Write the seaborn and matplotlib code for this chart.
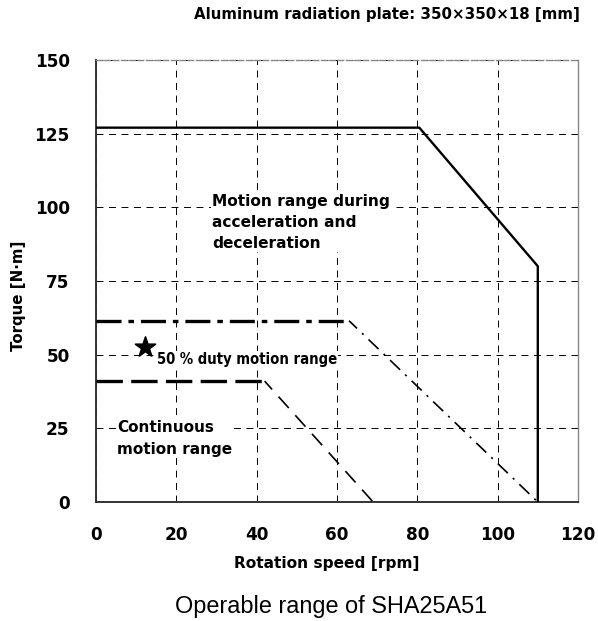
"""Operable range chart of SHA25A51 redrawn with seaborn."""
import matplotlib
matplotlib.use("Agg")
import matplotlib.pyplot as plt
from matplotlib import font_manager
import pandas as pd
import seaborn as sns

# Motion range during acceleration and deceleration (solid)
accel_speed = [0, 80.5, 110, 110]
accel_torque = [127, 127, 80, 0]
# 50 % duty motion range (dash-dot)
duty_speed = [0, 63, 110]
duty_torque = [61.5, 61.5, 0]
# Continuous motion range (dashed)
cont_speed = [0, 42, 69]
cont_torque = [41, 41, 0]
# star marker for the 50 % duty label
star_speed = [12.2]
star_torque = [52.5]

x_ticks = [0, 20, 40, 60, 80, 100, 120]
y_ticks = [0, 25, 50, 75, 100, 125, 150]

sns.set_style("white")
plt.rcParams["font.family"] = ["DejaVu Sans"]
plt.rcParams["lines.scale_dashes"] = False
plt.rcParams["text.color"] = "black"
plt.rcParams["axes.labelcolor"] = "black"
plt.rcParams["xtick.color"] = "black"
plt.rcParams["ytick.color"] = "black"

# condensed face for the 50 % duty label, if one is installed
fonts = font_manager.fontManager.ttflist
if any(f.name == "DejaVu Sans" and f.stretch == "condensed" for f in fonts):
    duty_font = dict(family="DejaVu Sans", fontstretch="condensed", fontsize=10.6)
elif any(f.name == "Liberation Sans Narrow" for f in fonts):
    duty_font = dict(family="Liberation Sans Narrow", fontsize=13)
else:
    duty_font = dict(family="Liberation Sans", fontsize=11.4)

fig = plt.figure(figsize=(5.98, 6.21), dpi=100)
ax = fig.add_axes([0.1605, 0.1916, 0.806, 0.712])

accel = pd.DataFrame({"speed": accel_speed, "torque": accel_torque})
duty = pd.DataFrame({"speed": duty_speed, "torque": duty_torque})
cont = pd.DataFrame({"speed": cont_speed, "torque": cont_torque})

sns.lineplot(data=accel, x="speed", y="torque", sort=False, estimator=None,
             color="black", linewidth=1.7, ax=ax, zorder=5)

# flat parts are heavy, sloped parts are light
l1 = sns.lineplot(data=duty.iloc[:2], x="speed", y="torque", sort=False,
                  estimator=None, color="black", linewidth=2.4, ax=ax,
                  zorder=5).lines[-1]
l1.set_linestyle((0, (18, 5, 4, 5)))
l2 = sns.lineplot(data=duty.iloc[1:], x="speed", y="torque", sort=False,
                  estimator=None, color="black", linewidth=1.2, ax=ax,
                  zorder=5).lines[-1]
l2.set_linestyle((2, (10, 5, 1.5, 5)))

l3 = sns.lineplot(data=cont.iloc[:2], x="speed", y="torque", sort=False,
                  estimator=None, color="black", linewidth=2.4, ax=ax,
                  zorder=5).lines[-1]
l3.set_linestyle((0, (19, 6)))
l4 = sns.lineplot(data=cont.iloc[1:], x="speed", y="torque", sort=False,
                  estimator=None, color="black", linewidth=1.2, ax=ax,
                  zorder=5).lines[-1]
l4.set_linestyle((3, (11, 7)))

sns.scatterplot(x=star_speed, y=star_torque, marker="*", s=230, color="black",
                edgecolor="black", ax=ax, zorder=6)

ax.set_xlim(0, 120)
ax.set_ylim(0, 150)
ax.set_xticks(x_ticks)
ax.set_yticks(y_ticks)
ax.set_xticklabels([str(v) for v in x_ticks], fontsize=12.2, fontweight="bold")
ax.set_yticklabels([str(v) for v in y_ticks], fontsize=12.2, fontweight="bold")
ax.tick_params(axis="y", length=0, pad=19)
ax.tick_params(axis="x", length=0, pad=17)

ax.grid(True, color="black", linestyle=(0, (5, 4)), linewidth=0.7)
for s in ["left", "bottom"]:
    ax.spines[s].set_color("#333333")
    ax.spines[s].set_linewidth(1.4)
ax.spines["right"].set_color("#888888")
ax.spines["right"].set_linewidth(1.0)
ax.spines["top"].set_color("#888888")
ax.spines["top"].set_linestyle((0, (4, 2)))
ax.spines["top"].set_linewidth(1.0)

ax.set_xlabel("Rotation speed [rpm]", fontsize=11.1, fontweight="bold", labelpad=9)
ax.set_ylabel("Torque [N·m]", fontsize=10.8, fontweight="bold", labelpad=6)
ax.xaxis.label.set_x(0.479)
ax.yaxis.label.set_y(0.466)

box = dict(facecolor="white", edgecolor="none", pad=0.5)
ax.text(28.9, 104.5, "Motion range during\nacceleration and\ndeceleration",
        fontsize=11.1, fontweight="bold", va="top", ha="left", linespacing=1.5,
        bbox=box, zorder=4)
ax.text(15.2, 48.3, "50 % duty motion range", fontweight="bold",
        va="center", ha="left", bbox=box, zorder=4, **duty_font)
ax.text(5.2, 27.8, "Continuous\nmotion range", fontsize=11.0, fontweight="bold",
        va="top", ha="left", linespacing=1.58, bbox=box, zorder=4)

fig.text(580 / 598, 1 - 14 / 621, "Aluminum radiation plate: 350×350×18 [mm]",
         fontsize=10.85, fontweight="bold", ha="right", va="center")
fig.text(331 / 598, 1 - 606 / 621, "Operable range of SHA25A51",
         fontsize=16.9, family="Liberation Sans", ha="center", va="center")

fig.savefig("out.png", dpi=100)
